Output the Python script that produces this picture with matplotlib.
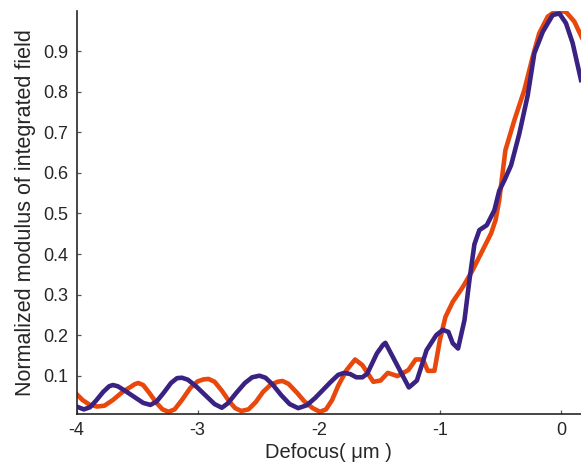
import matplotlib
matplotlib.use("Agg")
import matplotlib.pyplot as plt

plt.rcParams['font.family'] = ['Liberation Sans', 'DejaVu Sans']

# Defocus positions (µm) and normalized field modulus for the two cases
defocus_a = [-4.0, -3.95, -3.89, -3.83, -3.77, -3.70, -3.62, -3.55, -3.52, -3.49,
             -3.45, -3.40, -3.34, -3.29, -3.24, -3.19, -3.13, -3.06, -3.00, -2.95,
             -2.91, -2.86, -2.80, -2.74, -2.69, -2.64, -2.58, -2.52, -2.46, -2.40,
             -2.34, -2.30, -2.25, -2.18, -2.12, -2.05, -1.99, -1.94, -1.89, -1.84,
             -1.77, -1.70, -1.64, -1.55, -1.49, -1.43, -1.35, -1.26, -1.20, -1.14,
             -1.10, -1.045, -1.0, -0.954, -0.894, -0.81, -0.73, -0.646, -0.577, -0.54,
             -0.51, -0.459, -0.385, -0.303, -0.234, -0.18, -0.11, -0.04, 0.04, 0.11,
             0.17]
field_a = [0.055, 0.040, 0.028, 0.024, 0.026, 0.040, 0.060, 0.073, 0.079, 0.082,
           0.077, 0.058, 0.033, 0.017, 0.011, 0.017, 0.040, 0.070, 0.086, 0.091,
           0.092, 0.085, 0.063, 0.037, 0.020, 0.013, 0.017, 0.035, 0.060, 0.077,
           0.085, 0.087, 0.080, 0.058, 0.037, 0.020, 0.011, 0.017, 0.040, 0.075,
           0.114, 0.140, 0.126, 0.085, 0.088, 0.107, 0.099, 0.114, 0.140, 0.140,
           0.112, 0.112, 0.188, 0.245, 0.282, 0.319, 0.360, 0.410, 0.451, 0.484,
           0.533, 0.656, 0.730, 0.804, 0.886, 0.944, 0.985, 1.000, 0.997, 0.973,
           0.935]

defocus_b = [-4.0, -3.94, -3.89, -3.84, -3.78, -3.73, -3.70, -3.66, -3.60, -3.52,
             -3.45, -3.39, -3.34, -3.28, -3.22, -3.17, -3.13, -3.08, -3.01, -2.93,
             -2.86, -2.80, -2.75, -2.68, -2.61, -2.55, -2.49, -2.44, -2.38, -2.31,
             -2.24, -2.17, -2.10, -2.03, -1.965, -1.90, -1.84, -1.79, -1.74, -1.69,
             -1.64, -1.60, -1.56, -1.52, -1.47, -1.45, -1.36, -1.256, -1.19, -1.11,
             -1.03, -0.976, -0.93, -0.894, -0.85, -0.797, -0.756, -0.715, -0.674, -0.613,
             -0.55, -0.51, -0.467, -0.412, -0.344, -0.275, -0.22, -0.15, -0.069, -0.014,
             0.041, 0.096, 0.165]
field_b = [0.024, 0.017, 0.022, 0.038, 0.060, 0.074, 0.077, 0.074, 0.063, 0.047,
           0.033, 0.028, 0.036, 0.058, 0.082, 0.094, 0.095, 0.090, 0.073, 0.050,
           0.030, 0.021, 0.032, 0.058, 0.082, 0.096, 0.100, 0.095, 0.078, 0.052,
           0.030, 0.020, 0.027, 0.045, 0.065, 0.085, 0.102, 0.107, 0.104, 0.096,
           0.096, 0.105, 0.130, 0.155, 0.176, 0.181, 0.130, 0.071, 0.088, 0.163,
           0.200, 0.213, 0.208, 0.180, 0.167, 0.237, 0.336, 0.424, 0.459, 0.471,
           0.508, 0.556, 0.582, 0.619, 0.697, 0.791, 0.895, 0.948, 0.989, 0.993,
           0.969, 0.920, 0.829]

x_ticks = [-4, -3, -2, -1, 0]
y_ticks = [0.1, 0.2, 0.3, 0.4, 0.5, 0.6, 0.7, 0.8, 0.9]

fig = plt.figure(figsize=(5.81, 4.65), dpi=100)
ax = fig.add_axes([0.1317, 0.1097, 0.8683, 0.8666])

ax.plot(defocus_a, field_a, color='#E8480C', lw=3.3)
ax.plot(defocus_b, field_b, color='#3A2282', lw=3.3)

ax.set_xlim(-4, 0.165)
ax.set_ylim(0.0056, 0.999)
ax.set_xticks(x_ticks)
ax.set_xticklabels([str(t) for t in x_ticks])
ax.set_yticks(y_ticks)
ax.set_yticklabels([f"{t:.1f}" for t in y_ticks])

for side in ('top', 'right'):
    ax.spines[side].set_visible(False)
for side in ('left', 'bottom'):
    ax.spines[side].set_color('#262626')
    ax.spines[side].set_linewidth(1.2)

ax.tick_params(direction='in', length=3, width=0.9, color='#555555',
               labelsize=13, labelcolor='#262626', pad=6)

ax.set_xlabel('Defocus( μm )', fontsize=14.5, color='#262626', labelpad=3)
ax.set_ylabel('Normalized modulus of integrated field', fontsize=15.5,
              color='#262626', labelpad=5)

fig.savefig('out.png', dpi=100)
